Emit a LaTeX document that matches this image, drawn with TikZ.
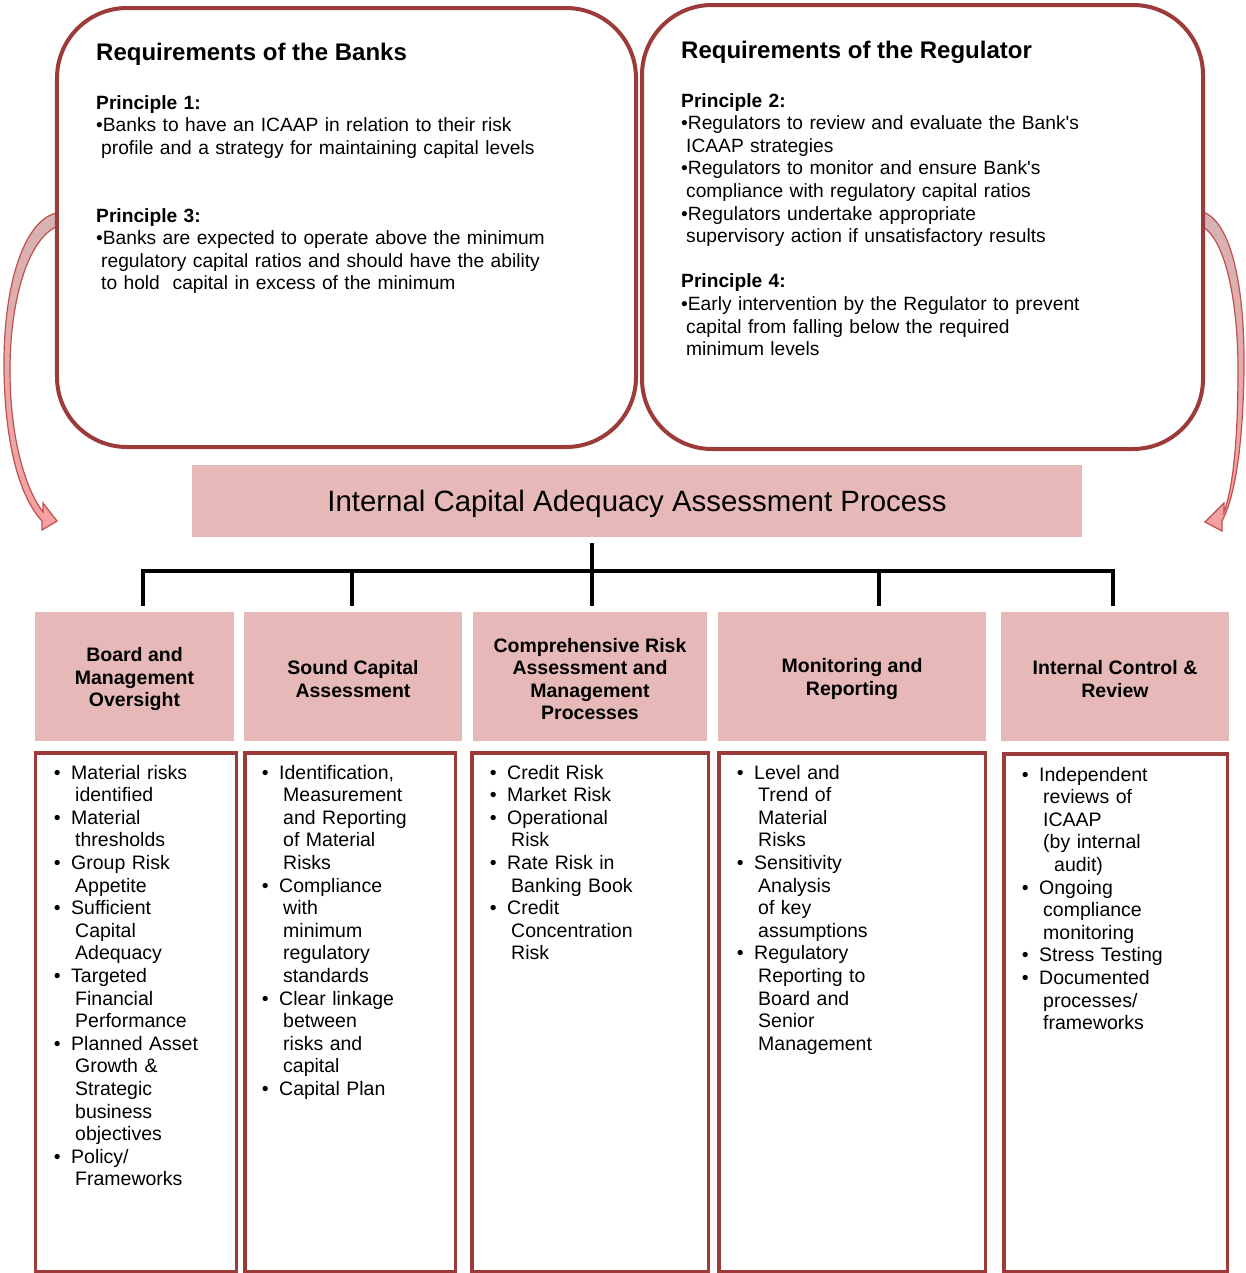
\documentclass[tikz,border=0pt]{standalone}
\usepackage{fontspec}
\setmainfont{Liberation Sans}[Ligatures=TeXOff]
\definecolor{boxred}{HTML}{9C3B39}
\definecolor{pinkfill}{HTML}{E6B9B8}
\definecolor{arrline}{HTML}{C0504D}
\definecolor{arrtop}{HTML}{D6B3B3}
\definecolor{arrbot}{HTML}{F6A0A0}
\newcommand\lbul{\leavevmode\llap{•\hspace{10.5bp}}}
\newcommand\lc{\hspace*{4bp}}
\tikzset{
  topbox/.style={draw=boxred, line width=4bp, rounded corners=70bp, fill=white, inner sep=0pt},
  hdr/.style={fill=pinkfill, inner sep=0pt, minimum height=129bp},
  hdrtext/.style={inner sep=0pt, align=center, font=\bfseries\fontsize{19.5bp}{22.6bp}\selectfont},
  listbox/.style={draw=boxred, line width=3.5bp, fill=white, inner sep=0pt},
  body/.style={inner sep=0pt, anchor=base west, align=left, text width=#1,
    font=\fontsize{19.5bp}{22.6bp}\selectfont},
  topbody/.style={inner sep=0pt, anchor=base west, align=left, text width=#1,
    font=\fontsize{19.2bp}{22.6bp}\selectfont},
  ttl/.style={inner sep=0pt, anchor=base west, font=\bfseries\fontsize{24bp}{29bp}\selectfont},
  tree/.style={draw=black, line width=3.5bp},
  curvearr/.style={draw=arrline, line width=1.2bp, top color=arrtop, bottom color=arrbot},
}
\begin{document}
\begin{tikzpicture}[x=1bp,y=-1bp]
\fill[white] (0,0) rectangle (1246,1273);
\useasboundingbox (0,0) rectangle (1246,1273);

% curved arrows
\path[curvearr] (56,213) .. controls (22,222) and (3,290) .. (4,370)
  .. controls (5,440) and (18,495) .. (42,521) -- (42,530) -- (57,521) -- (43,503) -- (43,512)
  .. controls (26,490) and (10,440) .. (10,370) .. controls (10,300) and (28,240) .. (56,227) -- cycle;
\path[curvearr] (1203,212) .. controls (1232,222) and (1245,290) .. (1244,370)
  .. controls (1243,440) and (1236,495) .. (1222,521) -- (1222,531) -- (1205,522) -- (1224,503) -- (1224,512)
  .. controls (1233,488) and (1238,440) .. (1238,370) .. controls (1238,300) and (1225,240) .. (1203,227) -- cycle;

% top boxes
\node[topbox, minimum width=579bp, minimum height=439bp] (banks) at (346.5,227.5) {};
\node[topbox, minimum width=561bp, minimum height=444bp] (reg) at (922.5,227) {};

\node[ttl] (bankstitle) at (96,60) {Requirements of the Banks};
\node[topbody=530bp] (bankstext) at (96,109) {\textbf{Principle 1:}\\
•Banks to have an ICAAP in relation to their risk\\
\hspace*{5bp}profile and a strategy for maintaining capital levels\\[45.2bp]
\textbf{Principle 3:}\\
•Banks are expected to operate above the minimum\\
\hspace*{5bp}regulatory capital ratios and should have the ability\\
\hspace*{5bp}to hold \ capital in excess of the minimum};

\node[ttl] (regtitle) at (681,58) {Requirements of the Regulator};
\node[topbody=510bp] (regtext) at (681,107) {\textbf{Principle 2:}\\
•Regulators to review and evaluate the Bank's\\
\hspace*{5bp}ICAAP strategies\\
•Regulators to monitor and ensure Bank's\\
\hspace*{5bp}compliance with regulatory capital ratios\\
•Regulators undertake appropriate\\
\hspace*{5bp}supervisory action if unsatisfactory results\\[22.6bp]
\textbf{Principle 4:}\\
•Early intervention by the Regulator to prevent\\
\hspace*{5bp}capital from falling below the required\\
\hspace*{5bp}minimum levels};

% ICAAP bar
\node[fill=pinkfill, inner sep=0pt, minimum width=890bp, minimum height=72bp] (bar) at (637,501) {};
\node[inner sep=0pt, font=\fontsize{29.4bp}{34bp}\selectfont] (bartext) at ([yshift=-3bp]bar.center)
  {Internal Capital Adequacy Assessment Process};

% headers
\node[hdr, minimum width=199bp] (h1) at (134.5,676.5) {};
\node[hdr, minimum width=218bp] (h2) at (353,676.5) {};
\node[hdr, minimum width=234bp] (h3) at (590,676.5) {};
\node[hdr, minimum width=268bp] (h4) at (852,676.5) {};
\node[hdr, minimum width=228bp] (h5) at (1115,676.5) {};
\node[hdrtext] (h1t) at ([yshift=-2.5bp]h1.center) {Board and\\Management\\Oversight};
\node[hdrtext] (h2t) at ([yshift=-2.5bp]h2.center) {Sound Capital\\Assessment};
\node[hdrtext] (h3t) at ([yshift=-2.5bp]h3.center) {Comprehensive Risk\\Assessment and\\Management\\Processes};
\node[hdrtext] (h4t) at ([yshift=-2.5bp]h4.center) {Monitoring and\\Reporting};
\node[hdrtext] (h5t) at ([yshift=-2.5bp]h5.center) {Internal Control \&\\Review};

% tree connectors
\coordinate (d1) at (143,571);
\coordinate (d2) at (352,571);
\coordinate (hub) at (592,571);
\coordinate (d4) at (879,571);
\coordinate (d5) at (1113,571);
\draw[tree, shorten <=6bp, shorten >=6bp] (d1 |- h1.north) -- (d1) -- (d5) -- (d5 |- h5.north);
\draw[tree, shorten <=6bp, shorten >=6bp] (hub |- bar.south) -- (hub |- h3.north);
\draw[tree, shorten >=6bp] (d2) -- (d2 |- h2.north);
\draw[tree, shorten >=6bp] (d4) -- (d4 |- h4.north);

% list boxes
\node[listbox, minimum width=200.5bp, minimum height=518.5bp] (b1) at (136,1012) {};
\node[listbox, minimum width=210.5bp, minimum height=518.5bp] (b2) at (350,1012) {};
\node[listbox, minimum width=236.5bp, minimum height=518.5bp] (b3) at (590,1012) {};
\node[listbox, minimum width=266.5bp, minimum height=518.5bp] (b4) at (852,1012) {};
\node[listbox, minimum width=223.5bp, minimum height=517.5bp] (b5) at (1115.5,1012.5) {};

\node[body=160bp] (t1) at (71,779) {\lbul Material risks\\ \lc identified\\ \lbul Material\\ \lc thresholds\\
\lbul Group Risk\\ \lc Appetite\\ \lbul Sufficient\\ \lc Capital\\ \lc Adequacy\\ \lbul Targeted\\
\lc Financial\\ \lc Performance\\ \lbul Planned Asset\\ \lc Growth \&\\ \lc Strategic\\ \lc business\\
\lc objectives\\ \lbul Policy/\\ \lc Frameworks};

\node[body=170bp] (t2) at (279,779) {\lbul Identification,\\ \lc Measurement\\ \lc and Reporting\\ \lc of Material\\
\lc Risks\\ \lbul Compliance\\ \lc with\\ \lc minimum\\ \lc regulatory\\ \lc standards\\ \lbul Clear linkage\\
\lc between\\ \lc risks and\\ \lc capital\\ \lbul Capital Plan};

\node[body=195bp] (t3) at (507,779) {\lbul Credit Risk\\ \lbul Market Risk\\ \lbul Operational\\ \lc Risk\\
\lbul Rate Risk in\\ \lc Banking Book\\ \lbul Credit\\ \lc Concentration\\ \lc Risk};

\node[body=220bp] (t4) at (754,779) {\lbul Level and\\ \lc Trend of\\ \lc Material\\ \lc Risks\\ \lbul Sensitivity\\
\lc Analysis\\ \lc of key\\ \lc assumptions\\ \lbul Regulatory\\ \lc Reporting to\\ \lc Board and\\ \lc Senior\\
\lc Management};

\node[body=180bp] (t5) at (1039,781) {\lbul Independent\\ \lc reviews of\\ \lc ICAAP\\ \lc (by internal\\
\hspace*{15bp}audit)\\ \lbul Ongoing\\ \lc compliance\\ \lc monitoring\\ \lbul Stress Testing\\ \lbul Documented\\
\lc processes/\\ \lc frameworks};
\end{tikzpicture}
\end{document}
